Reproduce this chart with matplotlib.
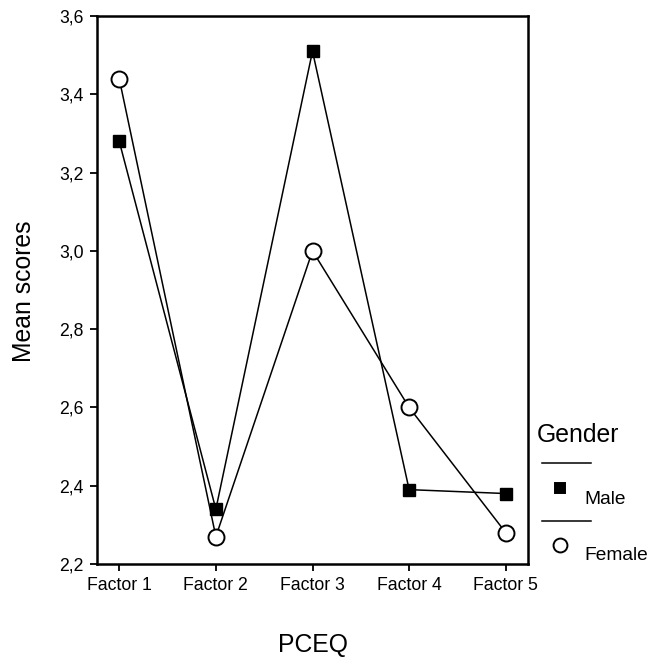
import matplotlib
matplotlib.use("Agg")
import matplotlib.pyplot as plt
from matplotlib.lines import Line2D

plt.rcParams['font.family'] = ['Liberation Sans', 'DejaVu Sans']

# mean PCEQ factor scores by gender
factors = ['Factor 1', 'Factor 2', 'Factor 3', 'Factor 4', 'Factor 5']
male = [3.28, 2.34, 3.51, 2.39, 2.38]
female = [3.44, 2.27, 3.00, 2.60, 2.28]
yticks = [2.2, 2.4, 2.6, 2.8, 3.0, 3.2, 3.4, 3.6]
ytick_labels = ['2,2', '2,4', '2,6', '2,8', '3,0', '3,2', '3,4', '3,6']

W, H = 649, 658
fig = plt.figure(figsize=(W / 100, H / 100), dpi=100)
ax = fig.add_axes([97 / W, 1 - 564 / H, 431 / W, 548 / H])

xs = range(1, len(factors) + 1)
ax.plot(xs, male, color='black', lw=1.1, marker='s', markersize=8,
        markerfacecolor='black', markeredgecolor='black', zorder=3)
ax.plot(xs, female, color='black', lw=1.1, marker='o', markersize=11.5,
        markerfacecolor='white', markeredgecolor='black', markeredgewidth=1.4,
        zorder=3)

ax.set_xlim(0.77, 5.23)
ax.set_ylim(2.2, 3.6)
ax.set_xticks(list(xs))
ax.set_xticklabels(factors, fontsize=12.7)
ax.set_yticks(yticks)
ax.set_yticklabels(ytick_labels, fontsize=12.7)
ax.tick_params(axis='both', direction='out', length=5, width=1.3, pad=4.5,
               top=False, right=False)
for sp in ax.spines.values():
    sp.set_linewidth(1.8)

fig.text(24 / W, 1 - 291 / H, 'Mean scores', rotation=90,
         ha='center', va='center', fontsize=17.8)
fig.text(313 / W, 1 - 645 / H, 'PCEQ', ha='center', va='center', fontsize=17.8)

# legend drawn by hand: title, rule, marker and label for each group
fig.text(537 / W, 1 - 442 / H, 'Gender', ha='left', va='baseline', fontsize=17.8)
for y_line, y_mark, marker, face, label in [
        (463, 488, 's', 'black', 'Male'),
        (521, 545, 'o', 'white', 'Female')]:
    fig.add_artist(Line2D([542 / W, 591 / W], [1 - y_line / H] * 2,
                          transform=fig.transFigure, color='black', lw=1.1))
    fig.add_artist(Line2D([560 / W], [1 - y_mark / H], transform=fig.transFigure,
                          marker=marker, markersize=7 if marker == 's' else 10,
                          markerfacecolor=face, markeredgecolor='black',
                          markeredgewidth=1.4, linestyle='none'))
    fig.text(584 / W, 1 - (y_mark + 11) / H, label, ha='left', va='center',
             fontsize=13.8)

fig.savefig('out.png', dpi=100)
